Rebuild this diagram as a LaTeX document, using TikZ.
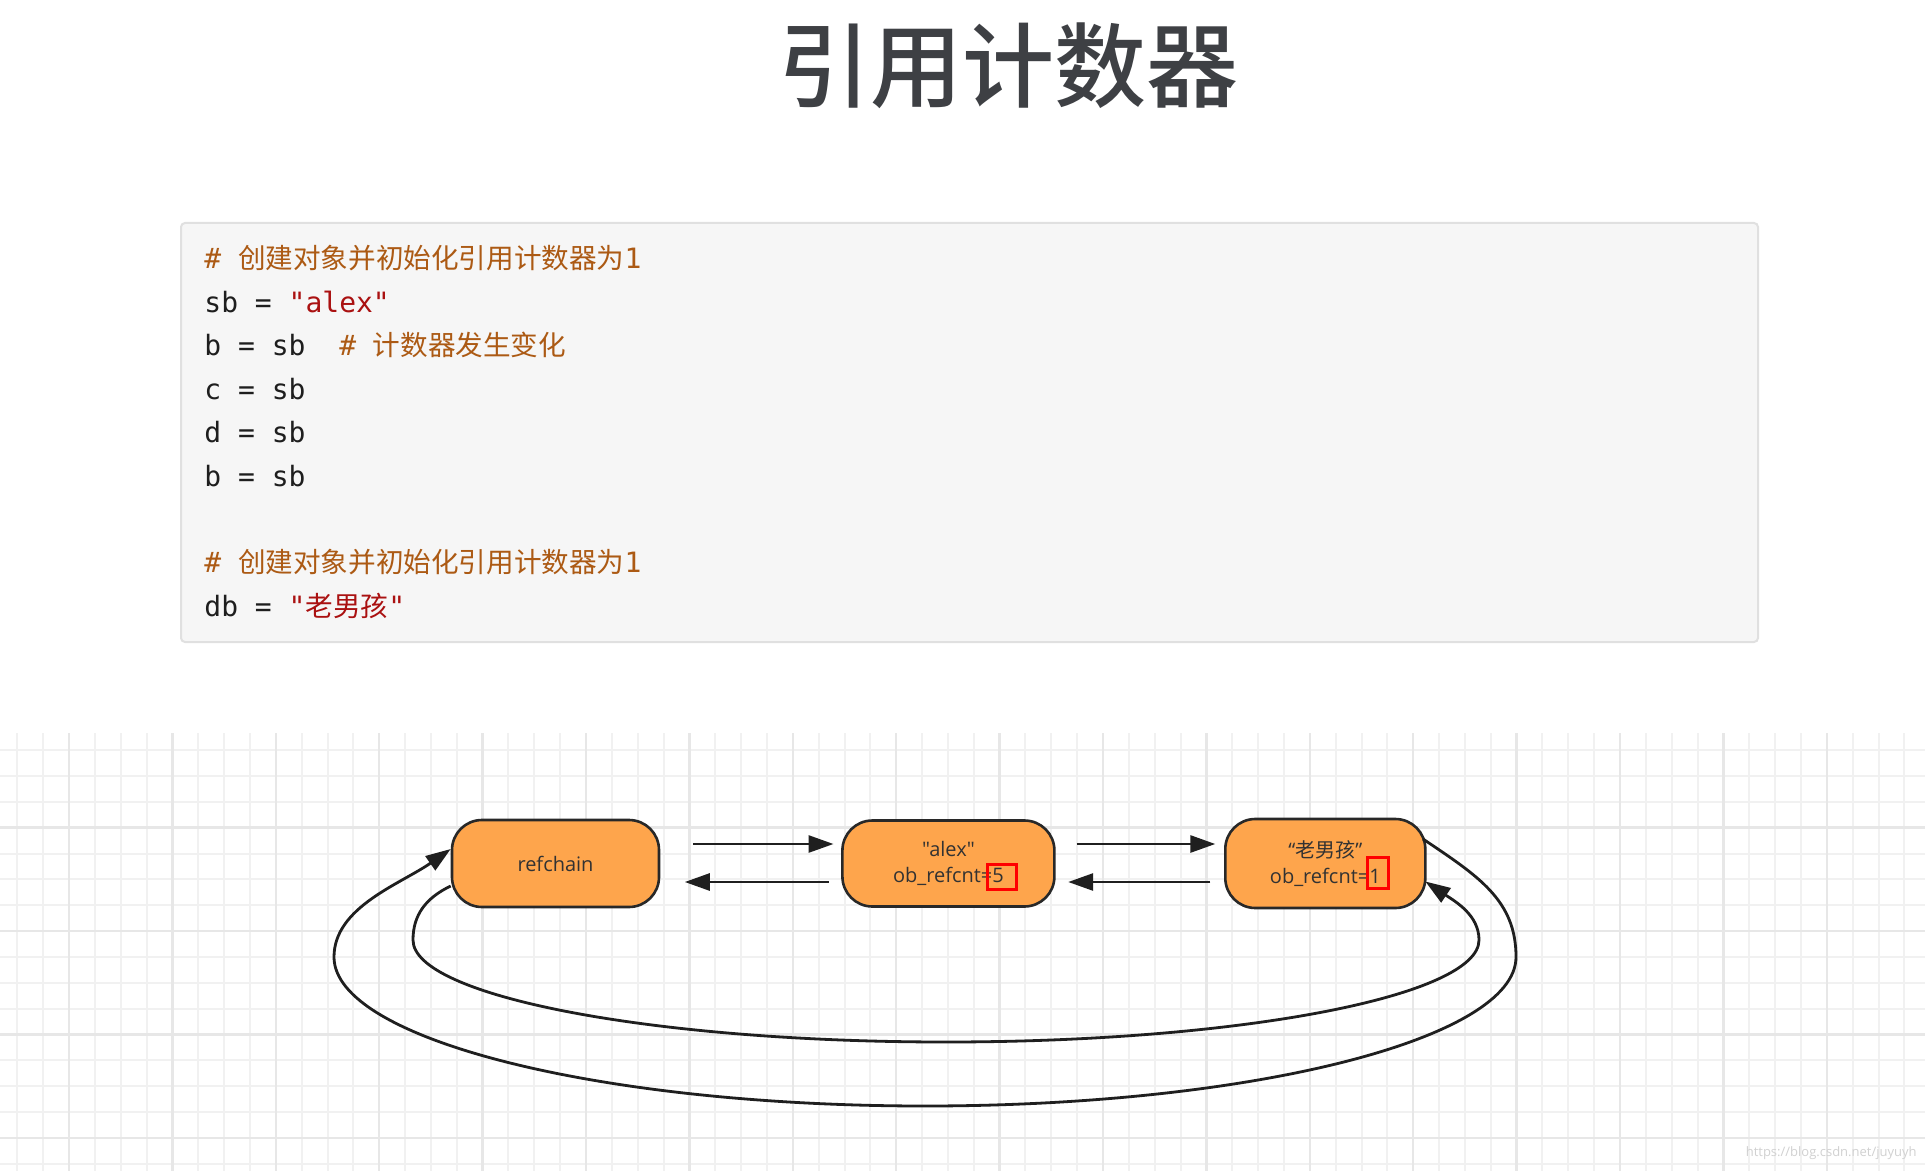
\documentclass[tikz,border=0pt]{standalone}
\usepackage{fontspec}
\setmainfont{Open Sans}
\newfontfamily\nodefont{Open Sans}
\newfontfamily\cjk{Noto Sans CJK SC}
\newfontfamily\cjkmedium{Noto Sans CJK SC Medium}
\newfontfamily\codefont{DejaVu Sans Mono}
\usetikzlibrary{arrows.meta}
\definecolor{titlegray}{RGB}{62,64,68}
\definecolor{codecomment}{RGB}{172,90,20}
\definecolor{codestring}{RGB}{170,17,17}
\definecolor{codetext}{RGB}{30,30,30}
\definecolor{codebg}{RGB}{246,246,246}
\definecolor{codeborder}{RGB}{224,224,224}
\definecolor{boxorange}{RGB}{254,165,76}
\definecolor{boxedge}{RGB}{40,40,40}
\definecolor{nodetext}{RGB}{50,50,50}
\definecolor{gridminor}{RGB}{241,241,241}
\definecolor{gridmajor}{RGB}{231,231,231}

\tikzset{
  obj/.style={draw=boxedge, line width=1.3pt, fill=boxorange, rounded corners=15pt,
    align=center, text=nodetext, inner sep=0pt, font=\nodefont\fontsize{10}{13}\selectfont},
  conn/.style={draw=black!88, line width=1.4pt, -{Triangle[length=12.5pt,width=8.5pt]}},
  redbox/.style={draw=red, line width=1.5pt},
  codeline/.style={anchor=base west, inner sep=0pt, text=codetext,
    font=\codefont\fontsize{14}{17}\selectfont},
  gridthin/.style={draw=gridminor, line width=1pt},
  gridthick/.style={draw=gridmajor, line width=1.2pt}
}
\newcommand\zh[1]{{\cjk\fontsize{13.8}{17}\selectfont #1}}

\begin{document}
\begin{tikzpicture}[x=0.5pt,y=-0.5pt]
  \useasboundingbox (0,0) rectangle (1925,1171);
  \fill[white] (0,0) rectangle (1925,1171);

  % title
  \node[font=\cjkmedium\fontsize{46}{50}\selectfont, text=titlegray, inner sep=0pt] (title) at (1008,66) {引用计数器};

  % code block
  \draw[codeborder, fill=codebg, line width=1pt, rounded corners=2pt] (181,223) rectangle (1758,642);
  \node[codeline, text=codecomment] (code1) at (204,269) {\# \zh{创建对象并初始化引用计数器为}1};
  \node[codeline] (code2) at (204,312.4) {sb = \textcolor{codestring}{"alex"}};
  \node[codeline] (code3) at (204,355.8) {b = sb\ \ \textcolor{codecomment}{\# \zh{计数器发生变化}}};
  \node[codeline] (code4) at (204,399.2) {c = sb};
  \node[codeline] (code5) at (204,442.6) {d = sb};
  \node[codeline] (code6) at (204,486) {b = sb};
  \node[codeline, text=codecomment] (code7) at (204,572.8) {\# \zh{创建对象并初始化引用计数器为}1};
  \node[codeline] (code8) at (204,616.2) {db = \textcolor{codestring}{"\zh{老男孩}"}};

  % grid paper
  \foreach \k in {0,...,73}
    \draw[gridthin] ({17.3+25.85*\k},733) -- ({17.3+25.85*\k},1171);
  \foreach \k in {0,...,16}
    \draw[gridthin] (0,{750.1+25.85*\k}) -- (1925,{750.1+25.85*\k});
  \foreach \k in {0,...,17}
    \draw[gridthick] ({69+103.4*\k},733) -- ({69+103.4*\k},1171);
  \foreach \k in {0,...,3}
    \draw[gridthick] (0,{827.6+103.4*\k}) -- (1925,{827.6+103.4*\k});

  % objects
  \node[obj, minimum width=103.5pt, minimum height=43.5pt] (refchain) at (555.5,863.5) {refchain};
  \node[obj, minimum width=106pt, minimum height=43pt] (alex) at (948.4,863.5) {"alex"\\ob\_refcnt=5};
  \node[obj, minimum width=100pt, minimum height=44.5pt] (laonan) at (1325.3,863.5) {“{\cjk 老男孩}”\\ob\_refcnt=1};

  % counters
  \draw[redbox] ([xshift=19.3pt,yshift=-0.25pt]alex.center) rectangle ([xshift=33.8pt,yshift=-12.75pt]alex.center);
  \draw[redbox] ([xshift=21pt,yshift=3pt]laonan.center) rectangle ([xshift=31.5pt,yshift=-12.6pt]laonan.center);

  % chain links
  \draw[conn] ([xshift=16.5pt,yshift=9.75pt]refchain.east) -- ([xshift=-3.8pt,yshift=9.75pt]alex.west);
  \draw[conn] ([xshift=-6.2pt,yshift=-9.25pt]alex.west) -- ([xshift=12.25pt,yshift=-9.25pt]refchain.east);
  \draw[conn] ([xshift=10.5pt,yshift=9.75pt]alex.east) -- ([xshift=-4.35pt,yshift=9.75pt]laonan.west);
  \draw[conn] ([xshift=-6.8pt,yshift=-9.25pt]laonan.west) -- ([xshift=6.25pt,yshift=-9.25pt]alex.east);

  % loop back round the chain
  \coordinate (outerR) at (1516,957);
  \coordinate (outerB) at (925,1106);
  \coordinate (outerL) at (334,957);
  \coordinate (innerR) at (1479,940);
  \coordinate (innerB) at (946,1042);
  \coordinate (innerL) at (413,940);
  \draw[conn] ([xshift=-1.8pt,yshift=12.25pt]laonan.east)
    .. controls +(55,37) and +(0,-57) .. (outerR)
    .. controls +(0,82) and +(326,0) .. (outerB)
    .. controls +(-326,0) and +(0,82) .. (outerL)
    .. controls +(0,-50) and +(-50,35) .. ([yshift=7.25pt]refchain.west);
  \draw[conn] ([yshift=-11.25pt]refchain.west)
    .. controls +(-25,12) and +(0,-25) .. (innerL)
    .. controls +(0,56) and +(-294,0) .. (innerB)
    .. controls +(294,0) and +(0,56) .. (innerR)
    .. controls +(0,-25) and +(30,20) .. ([xshift=-0.65pt,yshift=-9pt]laonan.east);

  \node[anchor=east, inner sep=0pt, text=black!18, font=\fontsize{6.5}{8}\selectfont] (watermark) at (1917,1153) {https://blog.csdn.net/juyuyh};
\end{tikzpicture}
\end{document}
